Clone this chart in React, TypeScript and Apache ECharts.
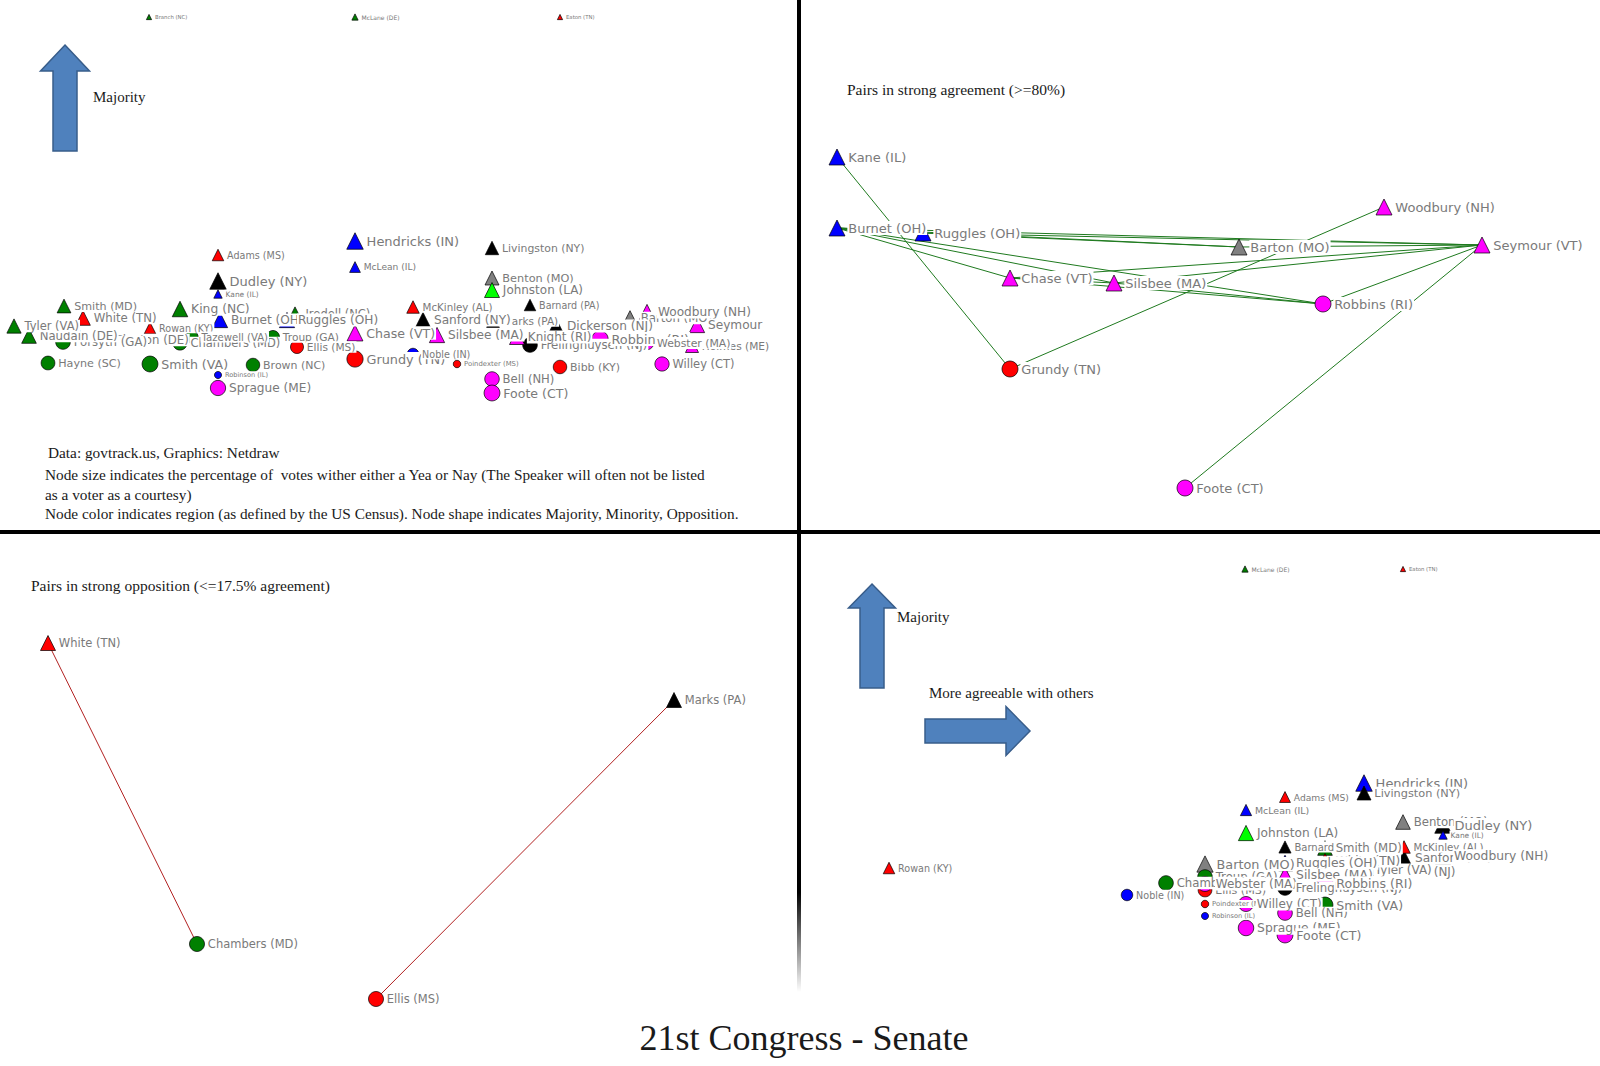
import React, { useEffect, useRef } from "react";
import * as echarts from "echarts";

type Region = "SA" | "ESC" | "ENC" | "MA" | "WNC" | "WSC" | "NE";
type Side = "Majority" | "Minority";
// [label, layout x, layout y, census region, side, % of votes cast]
type Senator = [string, number, number, Region, Side, number];
type PairNode = [string, number, number, Region, Side];

const TITLE = "21st Congress - Senate";
const NOTES = [
  "Data: govtrack.us, Graphics: Netdraw",
  "Node size indicates the percentage of  votes wither either a Yea or Nay (The Speaker will often not be listed",
  "as a voter as a courtesy)",
  "Node color indicates region (as defined by the US Census). Node shape indicates Majority, Minority, Opposition.",
];
const AGREE_TITLE = "Pairs in strong agreement (>=80%)";
const OPPOSE_TITLE = "Pairs in strong opposition (<=17.5% agreement)";
const MAJORITY_LABEL = "Majority";
const AGREEABLE_LABEL = "More agreeable with others";

const REGION_COLORS: Record<Region, string> = {
  SA: "#008000",
  ESC: "#ff0000",
  ENC: "#0000ff",
  MA: "#000000",
  WNC: "#808080",
  WSC: "#00ff00",
  NE: "#ff00ff",
};

// Quadrant 1: full network layout
const OVERVIEW: Senator[] = [
  ["Branch (NC)", 149, 17, "SA", "Majority", 10],
  ["McLane (DE)", 355, 17, "SA", "Majority", 18],
  ["Eaton (TN)", 560, 17, "ESC", "Majority", 10],
  ["Hendricks (IN)", 355, 241, "ENC", "Majority", 100],
  ["McLean (IL)", 355, 267, "ENC", "Majority", 54],
  ["Livingston (NY)", 492, 248, "MA", "Majority", 75],
  ["Adams (MS)", 218, 255, "ESC", "Majority", 60],
  ["Dudley (NY)", 218, 281, "MA", "Majority", 100],
  ["Benton (MO)", 492, 278, "WNC", "Majority", 80],
  ["Johnston (LA)", 492, 290, "WSC", "Majority", 88],
  ["Kane (IL)", 218, 294, "ENC", "Majority", 35],
  ["McKinley (AL)", 413, 307, "ESC", "Majority", 68],
  ["Barnard (PA)", 530, 305, "MA", "Majority", 60],
  ["Barton (MO)", 630, 318, "WNC", "Majority", 85],
  ["Woodbury (NH)", 647, 312, "NE", "Majority", 90],
  ["Smith (MD)", 64, 306, "SA", "Majority", 78],
  ["King (NC)", 180, 309, "SA", "Majority", 92],
  ["Burnet (OH)", 220, 320, "ENC", "Majority", 90],
  ["Iredell (NC)", 295, 314, "SA", "Majority", 82],
  ["Ruggles (OH)", 287, 320, "ENC", "Majority", 90],
  ["Marks (PA)", 493, 321, "MA", "Majority", 70],
  ["Sanford (NY)", 423, 320, "MA", "Majority", 90],
  ["Rowan (KY)", 150, 328, "ESC", "Majority", 60],
  ["Clayton (DE)", 104, 340, "SA", "Minority", 85],
  ["White (TN)", 83, 318, "ESC", "Majority", 85],
  ["Forsyth (GA)", 63, 342, "SA", "Minority", 85],
  ["Naudain (DE)", 29, 336, "SA", "Majority", 85],
  ["Tyler (VA)", 14, 326, "SA", "Majority", 82],
  ["Chambers (MD)", 180, 343, "SA", "Minority", 82],
  ["Tazewell (VA)", 192, 337, "SA", "Minority", 66],
  ["Troup (GA)", 273, 337, "SA", "Minority", 72],
  ["Ellis (MS)", 297, 347, "ESC", "Minority", 72],
  ["Chase (VT)", 355, 333, "NE", "Majority", 95],
  ["Silsbee (MA)", 437, 335, "NE", "Majority", 90],
  ["Dickerson (NJ)", 556, 326, "MA", "Majority", 90],
  ["Frelinghuysen (NJ)", 530, 345, "MA", "Minority", 85],
  ["Knight (RI)", 517, 337, "NE", "Majority", 88],
  ["Robbins (RI)", 600, 339, "NE", "Minority", 98],
  ["Holmes (ME)", 692, 346, "NE", "Majority", 72],
  ["Seymour (VT)", 697, 325, "NE", "Majority", 90],
  ["Webster (MA)", 647, 343, "NE", "Minority", 75],
  ["Hayne (SC)", 48, 363, "SA", "Minority", 78],
  ["Smith (VA)", 150, 364, "SA", "Minority", 95],
  ["Brown (NC)", 253, 365, "SA", "Minority", 76],
  ["Grundy (TN)", 355, 359, "ESC", "Minority", 98],
  ["Noble (IN)", 413, 354, "ENC", "Minority", 60],
  ["Poindexter (MS)", 457, 364, "ESC", "Minority", 28],
  ["Bibb (KY)", 560, 367, "ESC", "Minority", 76],
  ["Willey (CT)", 662, 364, "NE", "Minority", 82],
  ["Robinson (IL)", 218, 375, "ENC", "Minority", 25],
  ["Sprague (ME)", 218, 388, "NE", "Minority", 90],
  ["Bell (NH)", 492, 379, "NE", "Minority", 84],
  ["Foote (CT)", 492, 393, "NE", "Minority", 95],
];

// Quadrant 2: pairs in strong agreement
const AGREE_NODES: PairNode[] = [
  ["Kane (IL)", 837, 157, "ENC", "Majority"],
  ["Burnet (OH)", 837, 228, "ENC", "Majority"],
  ["Ruggles (OH)", 923, 233, "ENC", "Majority"],
  ["Barton (MO)", 1239, 247, "WNC", "Majority"],
  ["Woodbury (NH)", 1384, 207, "NE", "Majority"],
  ["Seymour (VT)", 1482, 245, "NE", "Majority"],
  ["Chase (VT)", 1010, 278, "NE", "Majority"],
  ["Silsbee (MA)", 1114, 283, "NE", "Majority"],
  ["Robbins (RI)", 1323, 304, "NE", "Minority"],
  ["Grundy (TN)", 1010, 369, "ESC", "Minority"],
  ["Foote (CT)", 1185, 488, "NE", "Minority"],
];
const AGREE_LINKS: [string, string][] = [
  ["Kane (IL)", "Grundy (TN)"],
  ["Burnet (OH)", "Ruggles (OH)"],
  ["Burnet (OH)", "Chase (VT)"],
  ["Burnet (OH)", "Silsbee (MA)"],
  ["Burnet (OH)", "Robbins (RI)"],
  ["Burnet (OH)", "Barton (MO)"],
  ["Burnet (OH)", "Seymour (VT)"],
  ["Ruggles (OH)", "Barton (MO)"],
  ["Ruggles (OH)", "Seymour (VT)"],
  ["Barton (MO)", "Seymour (VT)"],
  ["Grundy (TN)", "Woodbury (NH)"],
  ["Chase (VT)", "Seymour (VT)"],
  ["Silsbee (MA)", "Seymour (VT)"],
  ["Robbins (RI)", "Seymour (VT)"],
  ["Foote (CT)", "Seymour (VT)"],
  ["Chase (VT)", "Robbins (RI)"],
  ["Silsbee (MA)", "Robbins (RI)"],
  ["Chase (VT)", "Silsbee (MA)"],
];

// Quadrant 3: pairs in strong opposition
const OPPOSE_NODES: PairNode[] = [
  ["White (TN)", 48, 643, "ESC", "Majority"],
  ["Chambers (MD)", 197, 944, "SA", "Minority"],
  ["Marks (PA)", 674, 700, "MA", "Majority"],
  ["Ellis (MS)", 376, 999, "ESC", "Minority"],
];
const OPPOSE_LINKS: [string, string][] = [
  ["White (TN)", "Chambers (MD)"],
  ["Marks (PA)", "Ellis (MS)"],
];

// Quadrant 4: majority (up) vs agreeableness (right)
const AGREEABLENESS: Senator[] = [
  ["McLane (DE)", 1245, 569, "SA", "Majority", 18],
  ["Eaton (TN)", 1403, 569, "ESC", "Majority", 10],
  ["Rowan (KY)", 889, 868, "ESC", "Majority", 60],
  ["Noble (IN)", 1127, 895, "ENC", "Minority", 60],
  ["Hendricks (IN)", 1364, 783, "ENC", "Majority", 100],
  ["Livingston (NY)", 1364, 793, "MA", "Majority", 80],
  ["Adams (MS)", 1285, 797, "ESC", "Majority", 55],
  ["McLean (IL)", 1246, 810, "ENC", "Majority", 58],
  ["Benton (MO)", 1403, 822, "WNC", "Majority", 85],
  ["Dudley (NY)", 1443, 825, "MA", "Majority", 100],
  ["Kane (IL)", 1443, 835, "ENC", "Majority", 35],
  ["Johnston (LA)", 1246, 833, "WSC", "Majority", 90],
  ["Sanford (NY)", 1404, 858, "MA", "Majority", 90],
  ["McKinley (AL)", 1404, 847, "ESC", "Majority", 68],
  ["Woodbury (NH)", 1443, 856, "NE", "Majority", 92],
  ["Dickerson (NJ)", 1360, 872, "MA", "Majority", 88],
  ["Tyler (VA)", 1364, 870, "SA", "Majority", 88],
  ["Barnard (PA)", 1285, 847, "MA", "Majority", 65],
  ["Smith (MD)", 1325, 848, "SA", "Majority", 85],
  ["White (TN)", 1325, 861, "ESC", "Majority", 88],
  ["Ruggles (OH)", 1285, 863, "ENC", "Majority", 92],
  ["Silsbee (MA)", 1285, 875, "NE", "Majority", 92],
  ["Barton (MO)", 1205, 864, "WNC", "Majority", 98],
  ["Troup (GA)", 1205, 877, "SA", "Minority", 85],
  ["Ellis (MS)", 1205, 890, "ESC", "Minority", 78],
  ["Chambers (MD)", 1166, 883, "SA", "Minority", 85],
  ["Webster (MA)", 1205, 884, "NE", "Minority", 88],
  ["Frelinghuysen (NJ)", 1285, 888, "MA", "Minority", 85],
  ["Robbins (RI)", 1325, 883, "NE", "Minority", 95],
  ["Poindexter (MS)", 1205, 904, "ESC", "Minority", 28],
  ["Robinson (IL)", 1205, 916, "ENC", "Minority", 25],
  ["Willey (CT)", 1246, 904, "NE", "Minority", 88],
  ["Bell (NH)", 1285, 913, "NE", "Minority", 85],
  ["Smith (VA)", 1325, 905, "SA", "Minority", 95],
  ["Sprague (ME)", 1246, 928, "NE", "Minority", 92],
  ["Foote (CT)", 1285, 935, "NE", "Minority", 95],
];

const LABEL_WIDTH_LIMIT: Record<string, number> = { "Seymour (VT)": 60 };

const LABEL_FONT = "DejaVu Sans";
const SERIF = "Liberation Serif";

function nodeItem(
  name: string,
  x: number,
  y: number,
  region: Region,
  side: Side,
  size: number,
  font: number,
  limit?: number
) {
  const label: any = {
    show: true,
    position: "right",
    distance: 2,
    fontSize: font,
    lineHeight: font + 1,
    fontFamily: LABEL_FONT,
    color: "#7a7a7a",
    backgroundColor: "#ffffff",
    padding: [0, 1],
  };
  if (limit) {
    label.width = limit;
    label.overflow = "truncate";
    label.ellipsis = "";
  }
  return {
    name,
    value: [x, y],
    symbol: side === "Majority" ? "triangle" : "circle",
    symbolSize: size,
    itemStyle: { color: REGION_COLORS[region], borderColor: "#000", borderWidth: 0.7 },
    label,
  };
}

function participationNodes(list: Senator[], useLimit: boolean) {
  return list.map(([n, x, y, r, s, pct]) => {
    const size = 4 + pct * 0.125;
    const font = 4.5 + pct * 0.085;
    return nodeItem(n, x, y, r, s, size, font, useLimit ? LABEL_WIDTH_LIMIT[n] : undefined);
  });
}

function pairNodes(list: PairNode[], size: number, font: number) {
  return list.map(([n, x, y, r, s]) => nodeItem(n, x, y, r, s, size, font));
}

const QUADS = [
  { left: 0, top: 0, xr: [0, 799], yr: [0, 532] },
  { left: 800, top: 0, xr: [800, 1600], yr: [0, 532] },
  { left: 0, top: 534, xr: [0, 799], yr: [534, 1066] },
  { left: 800, top: 534, xr: [800, 1600], yr: [534, 1066] },
];

const ARROW_FILL = "#4f81bd";
const ARROW_STROKE = "#385d8a";

function upArrow(cx: number, top: number, headW: number, headH: number, shaftW: number, bottom: number) {
  const hb = top + headH;
  return {
    type: "polygon",
    shape: {
      points: [
        [cx, top],
        [cx + headW / 2, hb],
        [cx + shaftW / 2, hb],
        [cx + shaftW / 2, bottom],
        [cx - shaftW / 2, bottom],
        [cx - shaftW / 2, hb],
        [cx - headW / 2, hb],
      ],
    },
    style: { fill: ARROW_FILL, stroke: ARROW_STROKE, lineWidth: 1.5 },
  };
}

function rightArrow(left: number, cy: number, shaftH: number, headBase: number, tip: number, headH: number) {
  return {
    type: "polygon",
    shape: {
      points: [
        [left, cy - shaftH / 2],
        [headBase, cy - shaftH / 2],
        [headBase, cy - headH / 2],
        [tip, cy],
        [headBase, cy + headH / 2],
        [headBase, cy + shaftH / 2],
        [left, cy + shaftH / 2],
      ],
    },
    style: { fill: ARROW_FILL, stroke: ARROW_STROKE, lineWidth: 1.5 },
  };
}

function serifText(text: string, x: number, y: number, size: number, align = "left") {
  return {
    type: "text",
    x,
    y,
    style: {
      text,
      fontSize: size,
      fontFamily: SERIF,
      fill: "#1a1a1a",
      align,
      verticalAlign: "middle",
    },
  };
}

export default function App() {
  const ref = useRef<HTMLDivElement>(null);

  useEffect(() => {
    if (!ref.current) return;
    const chart = echarts.init(ref.current, null, { renderer: "svg" });

    const grid = QUADS.map((q) => ({
      left: q.left,
      top: q.top,
      width: q.xr[1] - q.xr[0],
      height: q.yr[1] - q.yr[0],
    }));
    const xAxis = QUADS.map((q, i) => ({
      type: "value",
      gridIndex: i,
      min: q.xr[0],
      max: q.xr[1],
      show: false,
    }));
    const yAxis = QUADS.map((q, i) => ({
      type: "value",
      gridIndex: i,
      min: q.yr[0],
      max: q.yr[1],
      inverse: true,
      show: false,
    }));

    const base = {
      type: "graph",
      coordinateSystem: "cartesian2d",
      silent: true,
      roam: false,
      emphasis: { disabled: true },
    };

    const series: any[] = [
      {
        ...base,
        name: "Overview",
        xAxisIndex: 0,
        yAxisIndex: 0,
        data: participationNodes(OVERVIEW, true),
        links: [],
      },
      {
        ...base,
        name: "Strong agreement",
        xAxisIndex: 1,
        yAxisIndex: 1,
        data: pairNodes(AGREE_NODES, 16, 13),
        links: AGREE_LINKS.map(([s, t]) => ({ source: s, target: t })),
        lineStyle: { color: "#1f7a1f", width: 1, opacity: 1, curveness: 0 },
      },
      {
        ...base,
        name: "Strong opposition",
        xAxisIndex: 2,
        yAxisIndex: 2,
        data: pairNodes(OPPOSE_NODES, 15, 11.5),
        links: OPPOSE_LINKS.map(([s, t]) => ({ source: s, target: t })),
        lineStyle: { color: "#b22222", width: 1, opacity: 1, curveness: 0 },
      },
      {
        ...base,
        name: "Agreeableness",
        xAxisIndex: 3,
        yAxisIndex: 3,
        data: participationNodes(AGREEABLENESS, false),
        links: [],
      },
    ];

    const graphic: any[] = [
      {
        type: "rect",
        shape: { x: 797, y: 0, width: 4, height: 992 },
        style: {
          fill: new echarts.graphic.LinearGradient(0, 0, 0, 1, [
            { offset: 0, color: "#000" },
            { offset: 0.9, color: "#000" },
            { offset: 1, color: "rgba(0,0,0,0)" },
          ]),
        },
        z: 10,
      },
      { type: "rect", shape: { x: 0, y: 530, width: 1600, height: 4 }, style: { fill: "#000" }, z: 10 },
      upArrow(65, 45, 49, 26, 24, 151),
      serifText(MAJORITY_LABEL, 93, 97, 15),
      serifText(NOTES[0], 48, 452, 15.3),
      serifText(NOTES[1], 45, 474, 15.3),
      serifText(NOTES[2], 45, 494, 15.3),
      serifText(NOTES[3], 45, 513, 15.3),
      serifText(AGREE_TITLE, 847, 89, 15.5),
      serifText(OPPOSE_TITLE, 31, 585, 15.5),
      upArrow(872, 584, 47, 24, 24, 688),
      serifText(MAJORITY_LABEL, 897, 617, 15),
      serifText(AGREEABLE_LABEL, 929, 693, 15),
      rightArrow(925, 731, 24, 1006, 1030, 49),
      serifText(TITLE, 804, 1038, 36, "center"),
    ];

    chart.setOption({
      animation: false,
      backgroundColor: "#ffffff",
      grid,
      xAxis,
      yAxis,
      series,
      graphic: { elements: graphic },
    });

    return () => chart.dispose();
  }, []);

  return (
    <div
      ref={ref}
      style={{ position: "absolute", left: 0, top: 0, width: 1600, height: 1066, background: "#fff" }}
    />
  );
}
